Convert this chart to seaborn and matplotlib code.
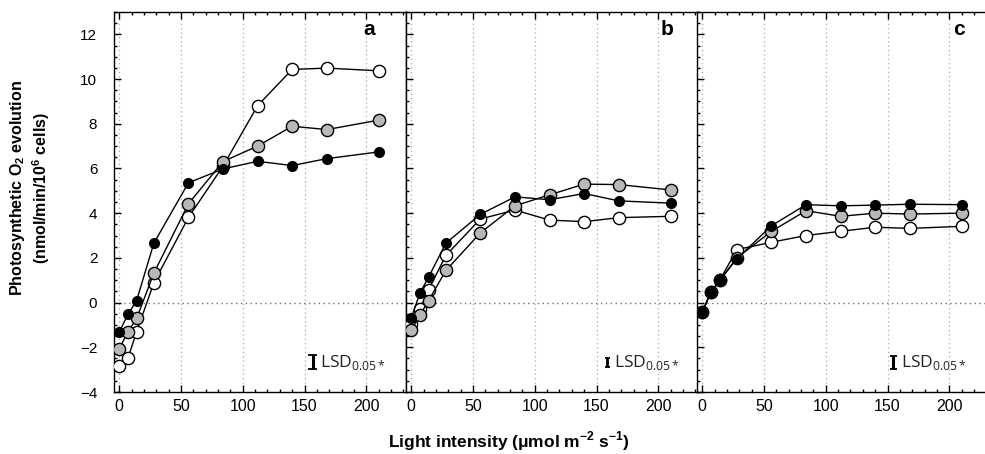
import numpy as np
import pandas as pd
import matplotlib
matplotlib.use("Agg")
import matplotlib.pyplot as plt
import matplotlib.transforms as mtransforms
from matplotlib.ticker import MultipleLocator
import seaborn as sns

# ---------------- data ----------------
light = [0, 7, 14, 28, 56, 84, 112, 140, 168, 210]

a_white = [-2.82, -2.49, -1.31, 0.89, 3.81, 6.10, 8.81, 10.43, 10.49, 10.37]
a_gray = [-2.06, -1.31, -0.71, 1.32, 4.42, 6.31, 7.00, 7.89, 7.74, 8.16]
a_black = [-1.31, -0.53, 0.09, 2.66, 5.36, 5.98, 6.32, 6.13, 6.44, 6.74]

b_white = [-0.95, -0.30, 0.58, 2.11, 3.74, 4.14, 3.69, 3.62, 3.80, 3.86]
b_gray = [-1.23, -0.56, 0.09, 1.44, 3.12, 4.33, 4.82, 5.30, 5.28, 5.04]
b_black = [-0.68, 0.43, 1.14, 2.66, 3.95, 4.73, 4.60, 4.88, 4.55, 4.45]

c_white = [-0.42, 0.47, 0.99, 2.37, 2.70, 3.00, 3.19, 3.37, 3.32, 3.41]
c_gray = [-0.42, 0.47, 0.99, 2.00, 3.19, 4.11, 3.86, 4.00, 3.96, 4.00]
c_black = [-0.42, 0.47, 0.99, 1.96, 3.44, 4.38, 4.33, 4.36, 4.40, 4.38]

panel_labels = ["a", "b", "c"]
lsd_values = [0.62, 0.40, 0.58]
x_ticks = [0, 50, 100, 150, 200]
y_ticks = [-4, -2, 0, 2, 4, 6, 8, 10, 12]

# ---------------- style ----------------
sns.set_style("ticks")
plt.rcParams["font.family"] = ["Liberation Sans", "DejaVu Sans"]
plt.rcParams["mathtext.fontset"] = "custom"
plt.rcParams["mathtext.rm"] = "Liberation Sans"
plt.rcParams["mathtext.bf"] = "Liberation Sans:bold"
plt.rcParams["text.color"] = "black"
plt.rcParams["xtick.color"] = "black"
plt.rcParams["ytick.color"] = "black"
plt.rcParams["xtick.labelcolor"] = "black"
plt.rcParams["ytick.labelcolor"] = "black"

W, H = 985, 454
fig = plt.figure(figsize=(W / 100, H / 100), dpi=100)

left_px = [114, 406, 697]
width_px = 291.5
top_px, bot_px = 12, 392

panels = [
    (a_white, a_gray, a_black),
    (b_white, b_gray, b_black),
    (c_white, c_gray, c_black),
]
label_pos = [0.877, 0.897, 0.897]
lsd_x = [0.682, 0.690, 0.674]
cap_half = [0.016, 0.009, 0.012]
stem_lw = [2.2, 2.0, 2.2]

for i, (wv, gv, bv) in enumerate(panels):
    ax = fig.add_axes([left_px[i] / W, 1 - bot_px / H, width_px / W, (bot_px - top_px) / H])
    ax.set_xlim(-4.3, 231.8)
    ax.set_ylim(-4, 13)

    # grid
    for xv in x_ticks:
        ax.axvline(xv, color="#a8a8a8", lw=0.9, ls=(0, (1, 2.5)), zorder=0)
    ax.axhline(0, color="#707070", lw=1.0, ls=(0, (1, 2.5)), zorder=0)

    for vals, fc, ms in [(wv, "white", 8.8), (gv, "#b8b8b8", 8.8), (bv, "black", 7.0)]:
        df = pd.DataFrame({"light": light, "rate": vals})
        sns.lineplot(data=df, x="light", y="rate", ax=ax, color="black", lw=1.0,
                     marker="o", markersize=ms, markerfacecolor=fc,
                     markeredgecolor="black", markeredgewidth=1.0, zorder=3)

    ax.set_xlabel("")
    ax.set_ylabel("")
    ax.xaxis.set_major_locator(MultipleLocator(50))
    ax.xaxis.set_minor_locator(MultipleLocator(10))
    ax.yaxis.set_major_locator(MultipleLocator(2))
    ax.yaxis.set_minor_locator(MultipleLocator(0.5))
    ax.tick_params(which="both", direction="in", top=True, right=False, bottom=True, left=True,
                   color="black", width=1.0, labelcolor="black")
    ax.tick_params(which="major", length=5)
    ax.tick_params(which="minor", length=2.5)
    ax.tick_params(axis="x", labelsize=11.5, pad=5)
    ax.tick_params(axis="y", labelsize=11, pad=12)
    if i > 0:
        ax.tick_params(axis="y", labelleft=False)
    else:
        ax.set_yticks(y_ticks)
    for sp in ax.spines.values():
        sp.set_color("black")
        sp.set_linewidth(1.0)
    if i == 2:
        ax.spines["right"].set_visible(False)

    ax.text(label_pos[i], 0.953, panel_labels[i], transform=ax.transAxes, fontsize=15,
            fontweight="bold", ha="center", va="center", color="black")

    # LSD bar
    trans = mtransforms.blended_transform_factory(ax.transAxes, ax.transData)
    yc = -2.66
    L = lsd_values[i]
    ax.vlines(lsd_x[i], yc - L / 2, yc + L / 2, transform=trans, color="black", lw=stem_lw[i])
    ax.hlines([yc - L / 2, yc + L / 2], lsd_x[i] - cap_half[i], lsd_x[i] + cap_half[i],
              transform=trans, color="black", lw=1.3)
    ax.text(lsd_x[i] + 0.025, yc, r"LSD$_{\mathregular{0.05*}}$", transform=trans,
            va="center", ha="left", fontsize=12.5, family=["Open Sans", "DejaVu Sans"],
            color="#222222")

fig.text(18 / W, 0.585, r"Photosynthetic O$_\mathbf{2}$ evolution", rotation=90,
         ha="center", va="center", fontsize=11.5, fontweight="bold")
fig.text(41 / W, 0.585, r"(nmol/min/10$^\mathbf{6}$ cells)", rotation=90,
         ha="center", va="center", fontsize=11.5, fontweight="bold")
fig.text(509 / W, 1 - 441 / H, r"Light intensity ($\mathbf{\mu}$mol m$^\mathbf{-2}$ s$^\mathbf{-1}$)",
         ha="center", va="center", fontsize=12.5, fontweight="bold")

fig.savefig("out.png", dpi=100)
